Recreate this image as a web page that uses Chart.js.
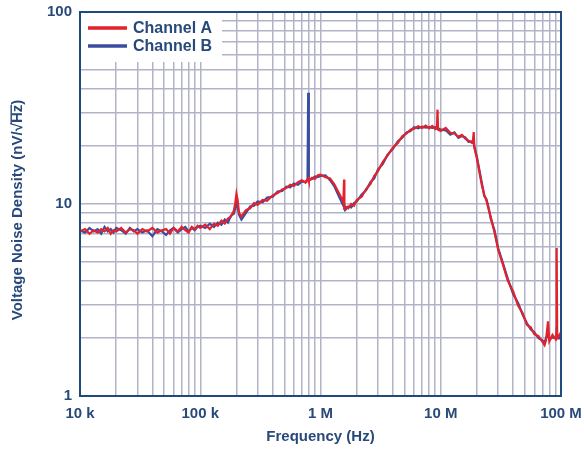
<!DOCTYPE html>
<html lang="en">
<head>
  <meta charset="UTF-8">
  <title>Voltage Noise Density</title>
  <style>
    body {
      margin: 0;
      padding: 0;
      background-color: #fff;
    }
    #chartContainer {
      display: block;
    }
  </style>
</head>
<body>
  <canvas id="chartContainer" width="584" height="449"></canvas>

  <script src="https://cdn.jsdelivr.net/npm/chart.js"></script>
  <script>
    // frequency in kHz
    const freqKHz = [
      10, 11, 12, 13, 14, 15, 16, 17, 18, 19, 20, 22, 24, 26, 28, 30, 33, 36, 40, 44, 48, 52, 56, 60, 65, 70, 75, 80, 85, 90, 95,
      100, 110, 120, 130, 140, 150, 160, 170, 180, 190, 195, 200, 205, 210, 220, 240, 260, 280, 300, 330, 360, 400, 440, 480, 520, 560, 600, 650, 700, 750, 780, 790, 800, 850, 900, 950,
      1000, 1100, 1200, 1300, 1400, 1500, 1550, 1570, 1580, 1600, 1700, 1800, 1900, 2000, 2200, 2400, 2600, 2800, 3000, 3300, 3600, 4000, 4400, 4800, 5200, 5600, 6000, 6500, 7000, 7500, 8000, 8500, 9000, 9300, 9400, 9500,
      10000, 11000, 12000, 13000, 14000, 15000, 16000, 17000, 18000, 18500, 18800, 19000, 20000, 21000, 22000, 23000, 24000, 25000, 26000, 28000, 30000, 33000, 36000, 40000, 44000, 48000, 52000, 56000, 60000, 65000, 70000, 73000, 75000, 78000, 80000, 85000, 90000, 91500, 92000, 93000, 96000, 100000
    ];

    // nV/rtHz
    const channelA = [
      7.2, 7.4, 7.0, 7.3, 7.1, 7.4, 7.2, 7.5, 7.0, 7.3, 7.2, 7.5, 7.1, 7.4, 7.3, 7.0, 7.4, 7.2, 7.5, 7.1, 7.3, 7.4, 7.0, 7.5, 7.2, 7.6, 7.3, 7.1, 7.6, 7.4, 7.7,
      7.5, 7.8, 7.4, 7.9, 7.7, 8.2, 7.9, 8.4, 8.6, 9.2, 10.0, 11.3, 10.4, 9.0, 8.6, 9.3, 9.5, 10.1, 9.9, 10.5, 10.4, 11.1, 11.4, 11.9, 12.1, 12.6, 12.4, 13.0, 13.3, 12.9, 13.4, 13.6, 13.2, 13.7, 13.5, 14.1,
      14.2, 13.8, 13.6, 12.7, 11.6, 10.7, 10.2, 13.4, 9.3, 9.7, 9.5, 10.0, 9.8, 10.5, 10.9, 12.0, 12.7, 14.0, 14.8, 16.6, 17.8, 19.7, 20.8, 22.6, 23.3, 24.4, 24.7, 25.4, 24.9, 25.6, 24.8, 25.5, 24.6, 25.0, 31.0, 24.4,
      24.0, 24.9, 23.5, 23.3, 22.4, 22.9, 21.9, 21.4, 20.9, 21.2, 23.7, 19.8, 17.2, 14.6, 12.5, 11.2, 10.4, 9.4, 8.6, 7.1, 5.8, 4.8, 4.0, 3.5, 2.95, 2.7, 2.35, 2.28, 2.1, 2.05, 1.92, 1.84, 1.95, 2.45, 1.93, 2.08, 1.98, 2.1, 5.9, 2.0, 2.05, 2.15
    ];

    const channelB = [
      7.3, 7.1, 7.5, 7.2, 7.4, 7.0, 7.6, 7.2, 7.4, 7.1, 7.5, 7.3, 7.0, 7.5, 7.2, 7.4, 7.1, 7.3, 6.8, 7.4, 7.2, 6.9, 7.3, 7.5, 7.1, 7.4, 7.6, 7.2, 7.5, 7.3, 7.6,
      7.7, 7.5, 7.9, 7.6, 8.0, 7.8, 8.3, 8.0, 8.7, 8.9, 9.4, 10.1, 9.6, 8.8, 8.3, 9.0, 9.7, 9.8, 10.3, 10.2, 10.8, 10.9, 11.6, 11.7, 12.3, 12.2, 12.8, 12.6, 13.1, 13.0, 13.5, 38.0, 13.3, 13.5, 13.9, 13.8,
      14.0, 14.1, 13.3, 12.4, 11.2, 10.2, 9.8, 9.9, 9.5, 9.3, 9.7, 9.6, 10.1, 10.3, 11.2, 11.8, 13.0, 13.6, 15.1, 16.2, 18.0, 19.4, 21.2, 22.2, 23.6, 24.0, 25.1, 24.8, 25.3, 25.0, 25.2, 24.9, 25.1, 24.7, 25.3, 24.8,
      24.4, 24.2, 23.0, 23.6, 22.1, 22.6, 22.2, 21.1, 21.2, 20.8, 21.0, 20.0, 17.6, 14.9, 12.8, 11.0, 10.6, 9.6, 8.4, 7.3, 5.9, 4.9, 4.1, 3.4, 3.05, 2.65, 2.4, 2.22, 2.15, 2.0, 1.95, 1.9, 2.0, 2.1, 1.97, 2.02, 2.0, 2.05, 2.1, 2.05, 2.0, 2.1
    ];

    const seriesNames = ['Channel A', 'Channel B'];
    const xTickValues = [10, 100, 1000, 10000, 100000];
    const xTickLabels = ['10 k', '100 k', '1 M', '10 M', '100 M'];
    const yTickValues = [1, 10, 100];
    const yTickLabels = ['1', '10', '100'];

    const red = '#e3222b';
    const blue = '#3a4d9f';
    const navy = '#1f4a7c';
    const textColor = '#284a7a';
    const gridColor = '#b3b3c8';
    const font = '"Liberation Sans", Arial, sans-serif';

    // gridlines at 1..9 of every decade
    function decadeTicks(majors) {
      const ticks = [];
      for (let i = 0; i < majors.length; i++) {
        const limit = i === majors.length - 1 ? 1 : 9;
        for (let m = 1; m <= limit; m++) ticks.push({ value: majors[i] * m });
      }
      return ticks;
    }

    function tickLabel(values, labels) {
      return function (value) {
        const i = values.indexOf(value);
        return i >= 0 ? labels[i] : '';
      };
    }

    // keep the plot box where the layout padding puts it
    function fixScale(size) {
      return function (scale) {
        if (scale.isHorizontal()) scale.height = size; else scale.width = size;
        scale.paddingTop = 0;
        scale.paddingBottom = 0;
        scale.paddingLeft = 0;
        scale.paddingRight = 0;
      };
    }

    const decorations = {
      id: 'decorations',
      beforeDatasetsDraw(chart) {
        // white box behind the legend
        const c = chart.ctx;
        c.save();
        c.fillStyle = '#fff';
        c.fillRect(81, 13, 141, 49);
        c.restore();
      },
      afterDatasetsDraw(chart) {
        const c = chart.ctx;
        const a = chart.chartArea;
        c.save();

        // frame
        c.strokeStyle = navy;
        c.lineWidth = 2;
        c.strokeRect(a.left, a.top, a.right - a.left, a.bottom - a.top);

        // legend
        const rows = [[seriesNames[0], red, 28], [seriesNames[1], blue, 46]];
        c.font = 'bold 16px ' + font;
        c.textBaseline = 'middle';
        c.textAlign = 'left';
        rows.forEach(function (r) {
          c.strokeStyle = r[1];
          c.lineWidth = 3.5;
          c.beginPath();
          c.moveTo(88, r[2]);
          c.lineTo(127, r[2]);
          c.stroke();
          c.fillStyle = textColor;
          c.fillText(r[0], 133, r[2] + 0.5);
        });

        // x title
        c.font = 'bold 15px ' + font;
        c.textAlign = 'center';
        c.fillText('Frequency (Hz)', (a.left + a.right) / 2, 437);

        // y title with overline on Hz
        c.translate(18, 210);
        c.rotate(-Math.PI / 2);
        const title = 'Voltage Noise Density (nV/\u221AHz)';
        const w = c.measureText(title).width;
        const x0 = -w / 2;
        c.textAlign = 'left';
        c.fillText(title, x0, 0);
        const pre = c.measureText('Voltage Noise Density (nV/\u221A').width;
        const hz = c.measureText('Hz').width;
        c.fillRect(x0 + pre - 1, -7.5, hz + 1, 1.4);

        c.restore();
      }
    };

    new Chart(document.getElementById('chartContainer'), {
      type: 'line',
      data: {
        datasets: [
          {
            label: seriesNames[0],
            data: freqKHz.map(function (f, i) { return { x: f, y: channelA[i] }; }),
            borderColor: red,
            borderWidth: 2.2,
            pointRadius: 0,
            tension: 0
          },
          {
            label: seriesNames[1],
            data: freqKHz.map(function (f, i) { return { x: f, y: channelB[i] }; }),
            borderColor: blue,
            borderWidth: 2.2,
            pointRadius: 0,
            tension: 0
          }
        ]
      },
      options: {
        responsive: false,
        animation: false,
        layout: { padding: { left: 0, right: 23, top: 12, bottom: 0 } },
        scales: {
          x: {
            type: 'logarithmic',
            min: 10,
            max: 100000,
            afterBuildTicks: function (scale) { scale.ticks = decadeTicks(xTickValues); },
            afterFit: fixScale(53),
            ticks: {
              autoSkip: false,
              maxRotation: 0,
              padding: 9,
              color: textColor,
              font: { family: font, size: 15, weight: 'bold' },
              callback: tickLabel(xTickValues, xTickLabels)
            },
            grid: { color: gridColor, lineWidth: 1.5, drawTicks: false },
            border: { display: false }
          },
          y: {
            type: 'logarithmic',
            min: 1,
            max: 100,
            afterBuildTicks: function (scale) { scale.ticks = decadeTicks(yTickValues); },
            afterFit: fixScale(80),
            ticks: {
              autoSkip: false,
              padding: 8,
              color: textColor,
              font: { family: font, size: 15, weight: 'bold' },
              callback: tickLabel(yTickValues, yTickLabels)
            },
            grid: { color: gridColor, lineWidth: 1.5, drawTicks: false },
            border: { display: false }
          }
        },
        plugins: {
          legend: { display: false },
          tooltip: { enabled: false }
        }
      },
      plugins: [decorations]
    });
  </script>
</body>
</html>
